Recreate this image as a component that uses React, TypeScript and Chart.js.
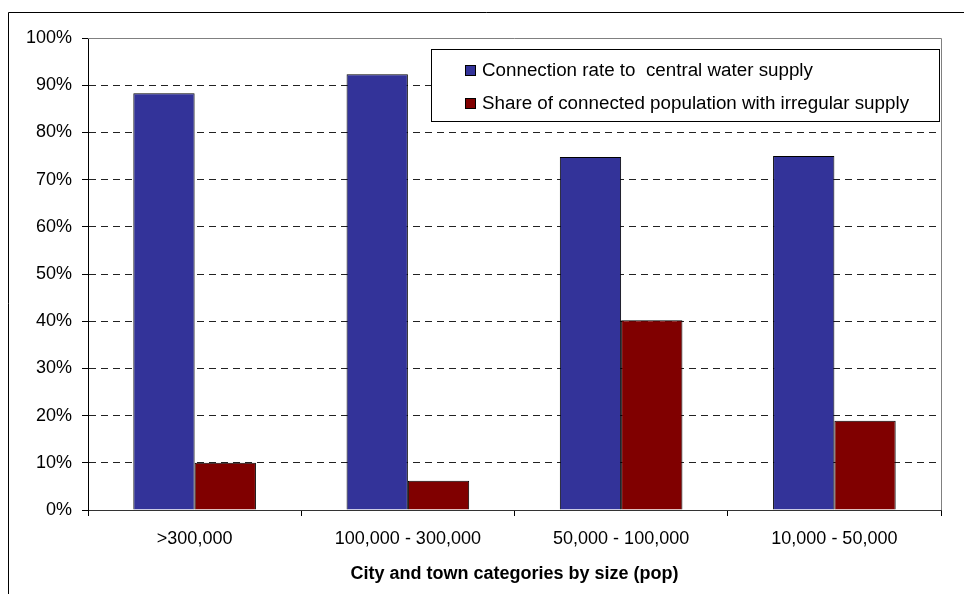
import React, { useEffect, useRef } from "react";
import { Chart, registerables } from "chart.js";

Chart.register(...registerables);

const categories = [">300,000", "100,000 - 300,000", "50,000 - 100,000", "10,000 - 50,000"];
const connectionRate = [88.3, 92.3, 74.8, 75.0];
const irregularShare = [10.0, 6.2, 40.2, 18.9];
const seriesLabels = [
  "Connection rate to  central water supply",
  "Share of connected population with irregular supply",
];
const seriesColors = ["#333399", "#800000"];
const yMin = 0;
const yMax = 100;
const yStep = 10;
const xTitle = "City and town categories by size (pop)";

const FONT = "'Liberation Sans', Arial, sans-serif";

export default function App() {
  const ref = useRef<HTMLCanvasElement | null>(null);

  useEffect(() => {
    const canvas = ref.current;
    if (!canvas) return;

    const decor = {
      id: "decor",
      beforeDraw(chart: any) {
        const { ctx } = chart;
        ctx.save();
        ctx.fillStyle = "#ffffff";
        ctx.fillRect(0, 0, chart.width, chart.height);
        ctx.restore();
      },
      beforeDatasetsDraw(chart: any) {
        const { ctx, chartArea } = chart;
        ctx.save();
        ctx.strokeStyle = "#808080";
        ctx.lineWidth = 1;
        ctx.beginPath();
        ctx.moveTo(chartArea.left, Math.round(chartArea.top) + 0.5);
        ctx.lineTo(Math.round(chartArea.right) + 0.5, Math.round(chartArea.top) + 0.5);
        ctx.lineTo(Math.round(chartArea.right) + 0.5, chartArea.bottom);
        ctx.stroke();
        ctx.restore();
      },
      afterDraw(chart: any) {
        const { ctx } = chart;
        ctx.save();
        // outer frame
        ctx.strokeStyle = "#000";
        ctx.lineWidth = 1;
        ctx.beginPath();
        ctx.moveTo(8.5, chart.height);
        ctx.lineTo(8.5, 12.5);
        ctx.lineTo(chart.width, 12.5);
        ctx.stroke();

        // legend
        const lx = 431, ly = 49, lw = 508, lh = 72;
        ctx.fillStyle = "#fff";
        ctx.fillRect(lx, ly, lw, lh);
        ctx.strokeStyle = "#000";
        ctx.strokeRect(lx + 0.5, ly + 0.5, lw, lh);
        ctx.font = `18.8px ${FONT}`;
        ctx.textBaseline = "middle";
        ctx.textAlign = "left";
        const rows = [70, 103];
        chart.data.datasets.forEach((ds: any, i: number) => {
          const cy = rows[i];
          ctx.fillStyle = ds.backgroundColor;
          ctx.fillRect(465, cy - 5, 11, 11);
          ctx.strokeStyle = "#000";
          ctx.strokeRect(465.5, cy - 4.5, 10, 10);
          ctx.fillStyle = "#000";
          ctx.fillText(ds.label, 482, cy + 1);
        });
        ctx.restore();
      },
    };

    const chart = new Chart(canvas, {
      type: "bar",
      data: {
        labels: categories,
        datasets: [
          {
            label: seriesLabels[0],
            data: connectionRate,
            backgroundColor: seriesColors[0],
            borderColor: "#000",
            borderWidth: 1,
            categoryPercentage: 0.575,
            barPercentage: 1.0,
          },
          {
            label: seriesLabels[1],
            data: irregularShare,
            backgroundColor: seriesColors[1],
            borderColor: "#000",
            borderWidth: 1,
            categoryPercentage: 0.575,
            barPercentage: 1.0,
          },
        ],
      },
      options: {
        responsive: false,
        animation: false,
        maintainAspectRatio: false,
        layout: { padding: { top: 38, right: 23, left: 0, bottom: 0 } },
        plugins: {
          legend: { display: false },
          tooltip: { enabled: false },
          title: { display: false },
        },
        scales: {
          x: {
            afterFit(scale: any) {
              scale.height = 84;
            },
            grid: {
              display: true,
              offset: true,
              drawOnChartArea: false,
              drawTicks: true,
              tickLength: 6,
              tickColor: "#000",
            },
            border: { display: true, color: "#333", width: 1 },
            ticks: {
              color: "#000",
              font: { family: FONT, size: 18 },
              padding: 12,
              maxRotation: 0,
              autoSkip: false,
            },
            title: {
              display: true,
              text: xTitle,
              color: "#000",
              font: { family: FONT, size: 18, weight: "bold" },
              padding: { top: 0, bottom: 9 },
            },
          },
          y: {
            min: yMin,
            max: yMax,
            afterFit(scale: any) {
              scale.width = 88;
            },
            grid: {
              display: true,
              drawOnChartArea: true,
              drawTicks: true,
              tickLength: 6,
              tickColor: "#000",
              color: (c: any) =>
                c.tick && (c.tick.value === yMax || c.tick.value === yMin) ? "rgba(0,0,0,0)" : "#222",
              lineWidth: 1,
            },
            border: { display: true, color: "#000", width: 1, dash: [7, 5] },
            ticks: {
              stepSize: yStep,
              color: "#000",
              font: { family: FONT, size: 18 },
              padding: 10,
              callback: (v: any) => `${v}%`,
            },
          },
        },
      },
      plugins: [decor],
    });

    return () => chart.destroy();
  }, []);

  return (
    <div style={{ position: "absolute", left: 0, top: 0, width: 964, height: 594 }}>
      <canvas ref={ref} width={964} height={594} style={{ display: "block" }} />
    </div>
  );
}
